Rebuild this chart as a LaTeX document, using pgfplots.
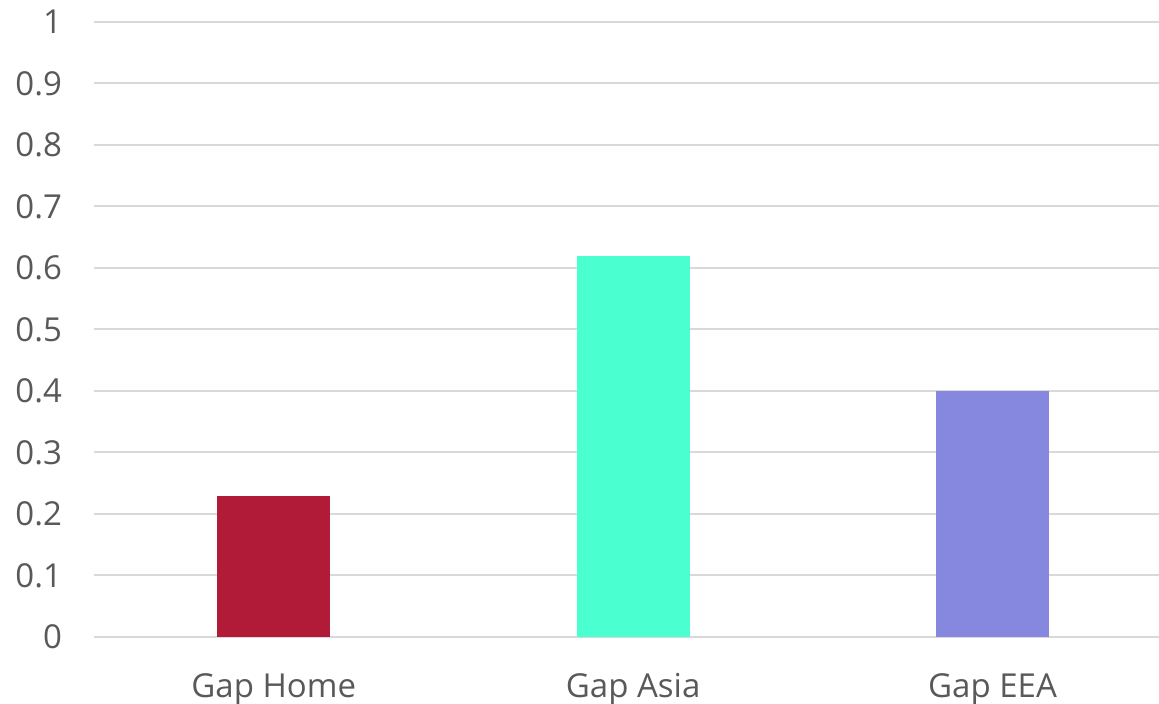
\documentclass[border=0pt]{standalone}
\usepackage{fontspec}
\setmainfont{Open Sans}
\usepackage{pgfplots}
\pgfplotsset{compat=1.18}
\definecolor{txt}{HTML}{595959}
\definecolor{gridc}{HTML}{D9D9D9}
\definecolor{cHome}{RGB}{178,27,56}
\definecolor{cAsia}{RGB}{74,255,208}
\definecolor{cEEA}{RGB}{134,135,222}
\begin{document}
\begin{tikzpicture}
\begin{axis}[
  name=ax,
  scale only axis,
  width=532.5pt, height=307.5pt,
  xmin=-0.5, xmax=2.463,
  ymin=0, ymax=1,
  ytick={0,0.1,0.2,0.3,0.4,0.5,0.6,0.7,0.8,0.9,1},
  yticklabels={0,0.1,0.2,0.3,0.4,0.5,0.6,0.7,0.8,0.9,1},
  xtick={0,1,2},
  xticklabels={Gap Home, Gap Asia, Gap EEA},
  axis line style={draw=none},
  major tick length=0pt,
  ymajorgrids,
  grid style={gridc, line width=1pt},
  tick label style={font=\fontsize{16.5}{19}\selectfont, text=txt},
  /pgf/number format/assume math mode=true,
  yticklabel shift=12.5pt,
  xticklabel shift=14.8pt,
  clip=false,
]
\addplot[ybar, bar shift=0pt, bar width=0.314, fill=cHome, draw=none] coordinates {(0,0.23)};
\addplot[ybar, bar shift=0pt, bar width=0.314, fill=cAsia, draw=none] coordinates {(1,0.62)};
\addplot[ybar, bar shift=0pt, bar width=0.314, fill=cEEA, draw=none] coordinates {(2,0.40)};
\end{axis}
\pgfresetboundingbox
\path[use as bounding box] ([xshift=-47pt,yshift=-33.5pt]ax.south west) rectangle ([yshift=11pt]ax.north east);
\end{tikzpicture}
\end{document}
